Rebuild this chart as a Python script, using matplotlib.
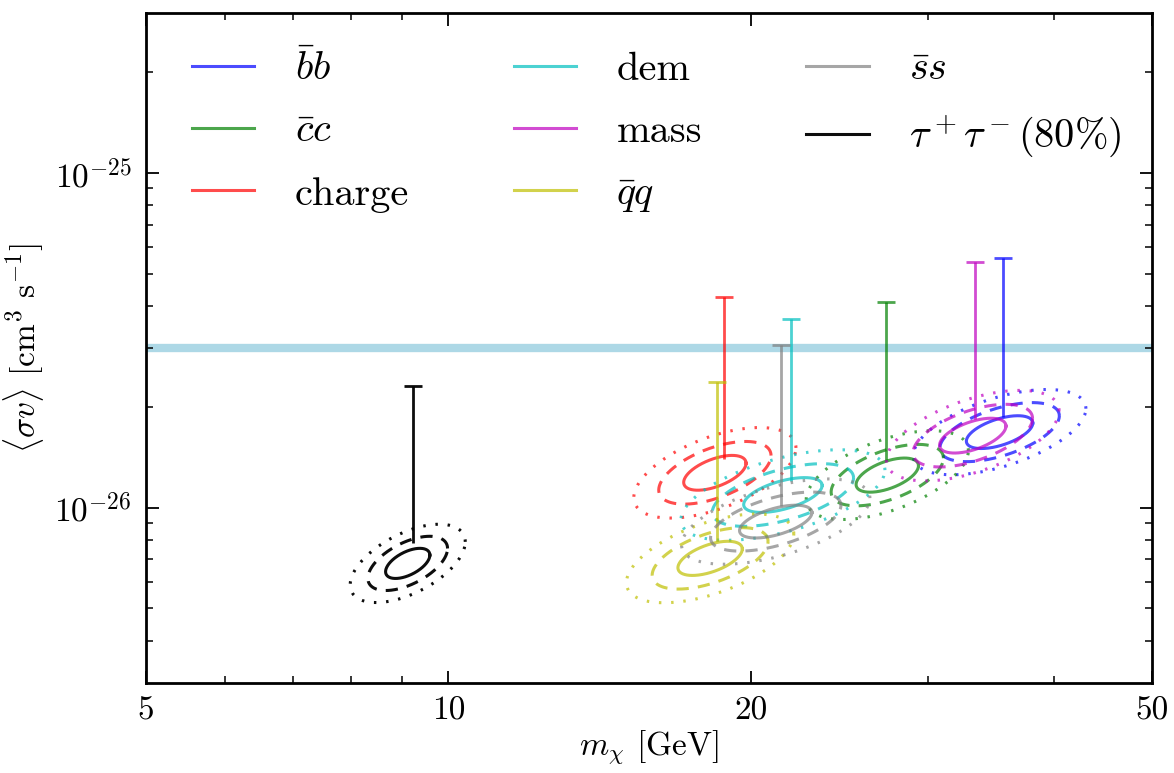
import numpy as np
import matplotlib
matplotlib.use('Agg')
import matplotlib.pyplot as plt
from matplotlib.lines import Line2D
from matplotlib.ticker import FixedLocator, NullFormatter, FixedFormatter

plt.rcParams['font.family'] = 'serif'
plt.rcParams['font.serif'] = ['cmr10', 'DejaVu Serif']
plt.rcParams['mathtext.fontset'] = 'cm'
plt.rcParams['axes.unicode_minus'] = False
plt.rcParams['axes.formatter.use_mathtext'] = True

# channels, in legend order
labels = [r'$\bar{b}b$', r'$\bar{c}c$', 'charge', 'dem', 'mass',
          r'$\bar{q}q$', r'$\bar{s}s$', r'$\tau^+\tau^-(80\%)$']
colors = ['b', 'g', 'r', 'c', 'm', 'y', 'gray', 'k']

# best fit (centre of contours)
mass_best = [35.3, 27.3, 18.4, 21.5, 33.2, 18.2, 21.15, 9.11]
sv_best = [1.68e-26, 1.25e-26, 1.27e-26, 1.09e-26, 1.64e-26, 7.05e-27, 9.08e-27, 6.81e-27]
# 1 sigma widths in log10 space and correlation
sig_logm = [0.033, 0.031, 0.031, 0.039, 0.033, 0.032, 0.036, 0.022]
sig_logsv = [0.049, 0.051, 0.052, 0.052, 0.052, 0.051, 0.049, 0.045]
rho = [0.55, 0.55, 0.55, 0.55, 0.55, 0.55, 0.55, 0.55]
# contour levels (solid, dashed, dotted)
levels = [1.0, 1.8, 2.6]

# vertical limits
mass_lim = [35.6, 27.2, 18.8, 21.9, 33.4, 18.5, 21.4, 9.22]
sv_lo = [1.87e-26, 1.38e-26, 1.40e-26, 1.20e-26, 1.84e-26, 7.92e-27, 1.01e-26, 7.81e-27]
sv_hi = [5.58e-26, 4.10e-26, 4.27e-26, 3.65e-26, 5.40e-26, 2.37e-26, 3.05e-26, 2.31e-26]

thermal = 3e-26

xticks = [5, 10, 20, 50]
xminor = [6, 7, 8, 9, 30, 40]
yticks = [1e-26, 1e-25]


def ellipse(m0, s0, sx, sy, r, k):
    t = np.linspace(0, 2 * np.pi, 300)
    lx = np.log10(m0) + k * sx * np.cos(t)
    ly = np.log10(s0) + k * sy * (r * np.cos(t) + np.sqrt(1 - r ** 2) * np.sin(t))
    return 10 ** lx, 10 ** ly


fig = plt.figure(figsize=(11.74, 7.73), dpi=100)
ax = fig.add_axes([0.124, 0.117, 0.857, 0.866])

ax.axhline(thermal, color='lightblue', lw=6, zorder=1)

styles = ['-', (0, (4, 3)), (0, (0.8, 3.2))]
for i in range(len(labels)):
    a = 0.95 if colors[i] == 'k' else 0.7
    for k, ls in zip(levels, styles):
        x, y = ellipse(mass_best[i], sv_best[i], sig_logm[i], sig_logsv[i], rho[i], k)
        ax.plot(x, y, color=colors[i], alpha=a, lw=2.2, ls=ls, zorder=3)
    ax.vlines(mass_lim[i], sv_lo[i], sv_hi[i], color=colors[i], alpha=a, lw=2, zorder=3)
    ax.plot(mass_lim[i], sv_hi[i], marker='_', ms=13, mew=2, color=colors[i], alpha=a, zorder=3)

ax.set_xscale('log')
ax.set_yscale('log')
ax.set_xlim(5, 50)
ax.set_ylim(3e-27, 3e-25)

ax.xaxis.set_major_locator(FixedLocator(xticks))
ax.xaxis.set_major_formatter(FixedFormatter([str(v) for v in xticks]))
ax.xaxis.set_minor_locator(FixedLocator(xminor))
ax.xaxis.set_minor_formatter(NullFormatter())
ax.yaxis.set_major_locator(FixedLocator(yticks))
ax.yaxis.set_major_formatter(FixedFormatter([r'$10^{-26}$', r'$10^{-25}$']))
ymin = [m * 10.0 ** e for e in (-27, -26, -25) for m in range(2, 10)]
ax.yaxis.set_minor_locator(FixedLocator([v for v in ymin if 3e-27 < v < 3e-25]))
ax.yaxis.set_minor_formatter(NullFormatter())

ax.tick_params(which='both', direction='in', top=True, right=True, labelsize=24, pad=10)
ax.tick_params(which='major', length=9, width=1.3)
ax.tick_params(which='minor', length=5, width=1.1)
for s in ax.spines.values():
    s.set_linewidth(2)

ax.set_xlabel(r'$m_\chi$ [GeV]', fontsize=24, labelpad=2)
ax.set_ylabel(r'$\langle\sigma v\rangle$ [cm$^3$ s$^{-1}$]', fontsize=24, labelpad=6)

handles = []
for i in range(len(labels)):
    a = 0.95 if colors[i] == 'k' else 0.7
    handles.append(Line2D([], [], color=colors[i], alpha=a, lw=2.2))
ax.legend(handles, labels, loc='upper left', ncol=3, frameon=False, fontsize=29,
          handlelength=1.55, handletextpad=1.0, columnspacing=2.6, labelspacing=0.65,
          bbox_to_anchor=(0.01, 1.0))

plt.savefig('out.png', dpi=100)
